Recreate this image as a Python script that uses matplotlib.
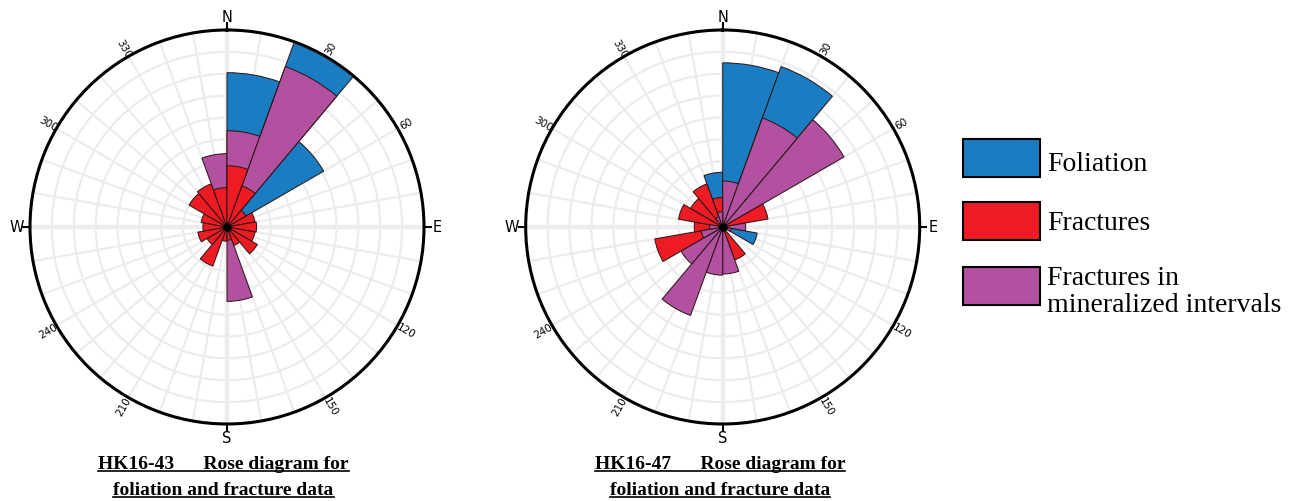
import numpy as np
import matplotlib
matplotlib.use("Agg")
import matplotlib.pyplot as plt
from matplotlib.patches import Rectangle
from matplotlib.lines import Line2D

# 20-degree bins, clockwise from north (radii in grid-ring units, outer ring = 9)
bin_starts = list(range(0, 360, 20))

hk43_foliation = [7.05, 8.95, 5.1, 0, 0, 0, 0, 0, 0, 0, 0, 0, 0, 0, 0, 0, 0, 0]
hk43_fractures = [2.8, 2.0, 1.0, 1.3, 1.35, 1.3, 1.6, 0.9, 0.6, 0.65, 1.9, 1.05, 1.35, 1.1, 1.2, 2.0, 2.1, 1.8]
hk43_mineralized = [4.4, 7.8, 0, 0, 0, 0, 0, 0, 3.4, 0, 0, 0, 0, 0, 0, 0, 0, 3.35]

hk47_foliation = [7.5, 7.8, 0, 0, 0, 1.6, 0, 0, 0, 0, 0, 0, 0, 0, 0, 0, 0, 2.5]
hk47_fractures = [0, 0, 0, 2.1, 0, 0, 0, 1.6, 0, 0, 0, 0, 3.15, 1.3, 2.05, 1.7, 2.1, 1.35]
hk47_mineralized = [2.1, 5.3, 6.4, 0, 1.05, 0.4, 0, 0, 2.15, 2.2, 4.3, 2.2, 1.0, 0.6, 0, 0, 0.5, 0.7]

series_labels = ["Foliation", "Fractures", "Fractures in", "mineralized intervals"]
captions = [("HK16-43      Rose diagram for", "foliation and fracture data"),
            ("HK16-47      Rose diagram for", "foliation and fracture data")]
degree_labels = [30, 60, 120, 150, 210, 240, 300, 330]
cardinals = {0: "N", 90: "E", 180: "S", 270: "W"}

BLUE = "#1a7dc1"
RED = "#ed1c24"
PURPLE = "#b1519f"
RMAX = 9
W, H = 1303, 502

fig = plt.figure(figsize=(W / 100, H / 100), dpi=100)


def rose(rect, fol, frac, mine):
    ax = fig.add_axes(rect, projection="polar")
    ax.set_theta_zero_location("N")
    ax.set_theta_direction(-1)
    ax.set_ylim(0, RMAX)
    ax.set_xticks(np.radians(np.arange(0, 360, 10)))
    ax.set_xticklabels([])
    ax.set_yticks(np.arange(1, RMAX))
    ax.set_yticklabels([])
    ax.tick_params(length=0)
    ax.grid(True, color="#ececec", lw=1.6)
    ax.set_axisbelow(True)
    ax.spines["polar"].set_linewidth(2.2)

    # heavier N-S / E-W lines
    for a in range(0, 360, 90):
        ax.plot(np.radians([a, a]), [0, RMAX], color="#ececec", lw=3.2, zorder=1)

    # overlapping bars, smaller ones in front
    for i, start in enumerate(bin_starts):
        vals = sorted([(fol[i], BLUE), (frac[i], RED), (mine[i], PURPLE)],
                      key=lambda t: -t[0])
        for k, (v, c) in enumerate(vals):
            if v > 0:
                ax.bar(np.radians(start), v, width=np.radians(20), align="edge",
                       color=c, edgecolor="#2a1212", lw=0.7, zorder=3 + k)
    ax.plot(0, 0, "o", color="k", ms=5, zorder=10)

    for a, lab in cardinals.items():
        ax.plot(np.radians([a, a]), [RMAX, RMAX + 0.3], color="k", lw=1.5,
                clip_on=False, zorder=10)
        ax.text(np.radians(a), RMAX + 0.62, lab, ha="center", va="center",
                fontsize=10.5, family="DejaVu Sans")
    for d in degree_labels:
        rot = 90 - d
        while rot <= -90:
            rot += 180
        while rot > 90:
            rot -= 180
        ax.text(np.radians(d), RMAX + 0.45, str(d), rotation=rot,
                rotation_mode="anchor", ha="center", va="center",
                fontsize=7.5, family="DejaVu Sans")
    return ax


rose([30 / W, 0.1534, 394 / W, 394 / H], hk43_foliation, hk43_fractures, hk43_mineralized)
rose([525.7 / W, 0.1534, 394 / W, 394 / H], hk47_foliation, hk47_fractures, hk47_mineralized)

# legend
legend_rows = [(BLUE, 140, [(series_labels[0], 171)]),
               (RED, 203, [(series_labels[1], 230)]),
               (PURPLE, 268, [(series_labels[2], 285), (series_labels[3], 312)])]
for color, top, texts in legend_rows:
    fig.add_artist(Rectangle((963 / W, (H - top - 38) / H), 77 / W, 38 / H,
                             transform=fig.transFigure, facecolor=color,
                             edgecolor="k", lw=1.5))
    for txt, base in texts:
        fig.text(1047 / W, (H - base) / H, txt, fontsize=20,
                 family="Liberation Serif", va="baseline", ha="left")

# captions with underline
cap_texts = []
for cx, (l1, l2) in zip([223.5, 720], captions):
    for txt, base in [(l1, 469), (l2, 495)]:
        t = fig.text(cx / W, (H - base) / H, txt, fontsize=14, fontweight="bold",
                     family="Liberation Serif", ha="center", va="baseline")
        cap_texts.append((t, base))

fig.canvas.draw()
for t, base in cap_texts:
    bb = t.get_window_extent()
    y = (H - base - 3) / H
    fig.add_artist(Line2D([bb.x0 / W, bb.x1 / W], [y, y], color="k", lw=1.2,
                          transform=fig.transFigure))

fig.savefig("out.png", dpi=100)
